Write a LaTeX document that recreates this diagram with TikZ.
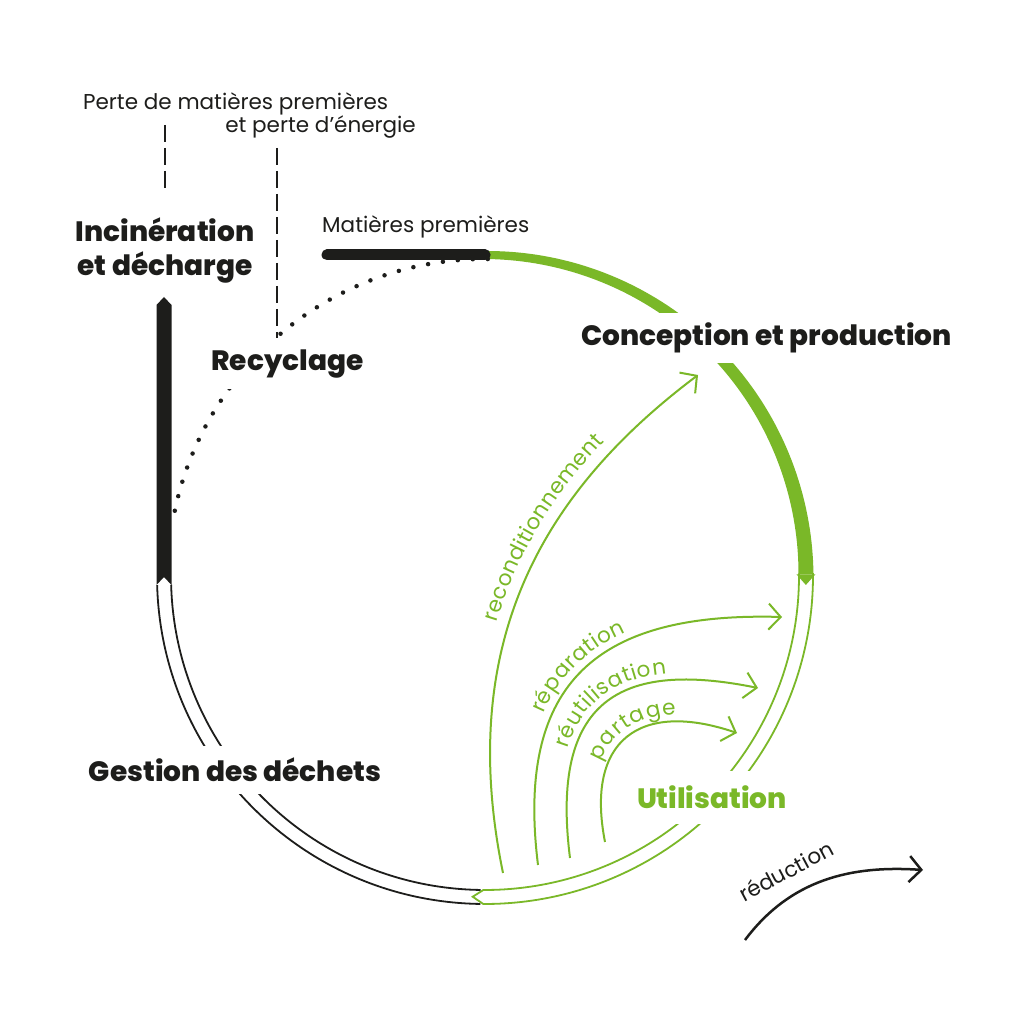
\documentclass[tikz,border=0pt]{standalone}
\usepackage{fontspec}
\setmainfont{Poppins}
\newfontface\heavy{Poppins ExtraBold}
\usetikzlibrary{arrows.meta,positioning,decorations.text}
\definecolor{leaf}{RGB}{122,184,40}
\definecolor{ink}{RGB}{29,29,27}
\newcommand\loopfont{\fontsize{21.5}{24}\selectfont\color{leaf}}

\begin{document}
\begin{tikzpicture}[x=1pt, y=1pt,
  title/.style={font=\fontsize{28}{34}\selectfont\heavy, text=ink, align=center},
  note/.style={font=\fontsize{21.5}{24}\selectfont, text=ink, inner sep=0pt},
  tube/.style={line width=1.8pt},
  back/.style={fill=white, inner xsep=3pt},
  flow/.style={leaf, line width=2pt, -{Straight Barb[length=12pt,width=26pt]}},
  along/.style={decorate, decoration={text along path, text={#1}}},
  lossline/.style={ink, line width=2pt, dash pattern=on 17pt off 6pt}]
\useasboundingbox (0,0) rectangle (1024,1024);
\fill[white] (0,0) rectangle (1024,1024);

% cycle
\begin{scope}[shift={(485,448)}]
\draw[ink, tube] (-90.8:314) arc[start angle=-90.8, end angle=-178.4, radius=314];
\draw[ink, tube] (-90.8:328) arc[start angle=-90.8, end angle=-178.4, radius=328];
\filldraw[leaf, tube, fill=white] (0.5:314) arc[start angle=0.5, end angle=-90.3, radius=314]
  -- (-92.2:321) -- (-90.3:328) arc[start angle=-90.3, end angle=0.5, radius=328];
\fill[leaf] plot[domain=90:0.3, samples=80] (\x:{325+3.5*(90-\x)/90})
  -- plot[domain=0.3:90, samples=80] (\x:{317-3.5*(90-\x)/90}) -- cycle;
\fill[leaf] (0.3:311.5) -- (0.3:330.5) -- (-1.6:321) -- cycle;
\draw[ink, line width=4.5pt, line cap=round, dash pattern=on 0pt off 15pt]
  (89.5:317) arc[start angle=89.5, end angle=169.5, radius=317];
\end{scope}

\draw[ink, line width=11pt, line cap=round] (327,769) -- (485,769);
\fill[ink] (156.5,439) -- (156.5,719) -- (164,727) -- (171.5,719) -- (171.5,439) -- (164,447) -- cycle;

% labels
\node[note, anchor=base west] (loss) at (83,914) {Perte de matières premières};
\node[note, anchor=base east] (energy) at (416,891) {et perte d’énergie};
\node[note, anchor=base west] (raw) at (322,791) {Matières premières};
\node[title] (burn) at (165,774) {Incinération\\et décharge};
\node[title, back, inner ysep=11pt] (recy) at (287.5,660) {Recyclage};
\node[title, back, inner ysep=10pt, anchor=base] (cp) at (766.5,678) {Conception et production};
\node[title, back, inner ysep=12pt, anchor=base] (waste) at (235,242) {Gestion des déchets};
\node[title, back, inner ysep=15pt, anchor=base, text=leaf] (use) at (712,215) {Utilisation};

\coordinate (lossA) at (165,899);
\coordinate (lossB) at (165,836);
\coordinate (lossC) at (277,876);
\coordinate (lossD) at (277,686);
\draw[lossline] (lossA) -- (lossB);
\draw[lossline] (lossC) -- (lossD);

% loops
\coordinate (recA) at (503,151);
\coordinate (recB) at (698,649);
\coordinate (repA) at (538,159);
\coordinate (repB) at (782,407);
\coordinate (reuA) at (570,166);
\coordinate (reuB) at (758,336);
\coordinate (parA) at (605,182);
\coordinate (parB) at (737,291);
\coordinate (redA) at (745,84);
\coordinate (redB) at (923,154);
\draw[flow] (recA) .. controls (455,384) and (545,534) .. (recB);
\draw[flow] (repA) .. controls (515,344) and (600,412) .. (repB);
\draw[flow] (reuA) .. controls (550,324) and (620,364) .. (reuB);
\draw[flow] (parA) .. controls (585,284) and (640,324) .. (parB);
\draw[ink, line width=2.5pt, -{Straight Barb[length=12pt,width=26pt]}]
  (redA) .. controls (790,144) and (850,159) .. (redB);

\path[along={|\loopfont|reconditionnement}, decoration={raise=12pt, text align={left indent=250pt}}]
  (recA) .. controls (455,384) and (545,534) .. (recB);
\path[along={|\loopfont|réparation}, decoration={raise=8pt, text align={left indent=150pt}}]
  (repA) .. controls (515,344) and (600,412) .. (repB);
\path[along={|\loopfont|réutilisation}, decoration={raise=7pt, text align={left indent=108pt}}]
  (reuA) .. controls (550,324) and (620,364) .. (reuB);
\path[along={|\loopfont|partage}, decoration={raise=7pt, text align={left indent=78pt}}]
  (parA) .. controls (585,284) and (640,324) .. (parB);
\node[note, rotate=28] (redl) at (786,153) {réduction};
\end{tikzpicture}
\end{document}
